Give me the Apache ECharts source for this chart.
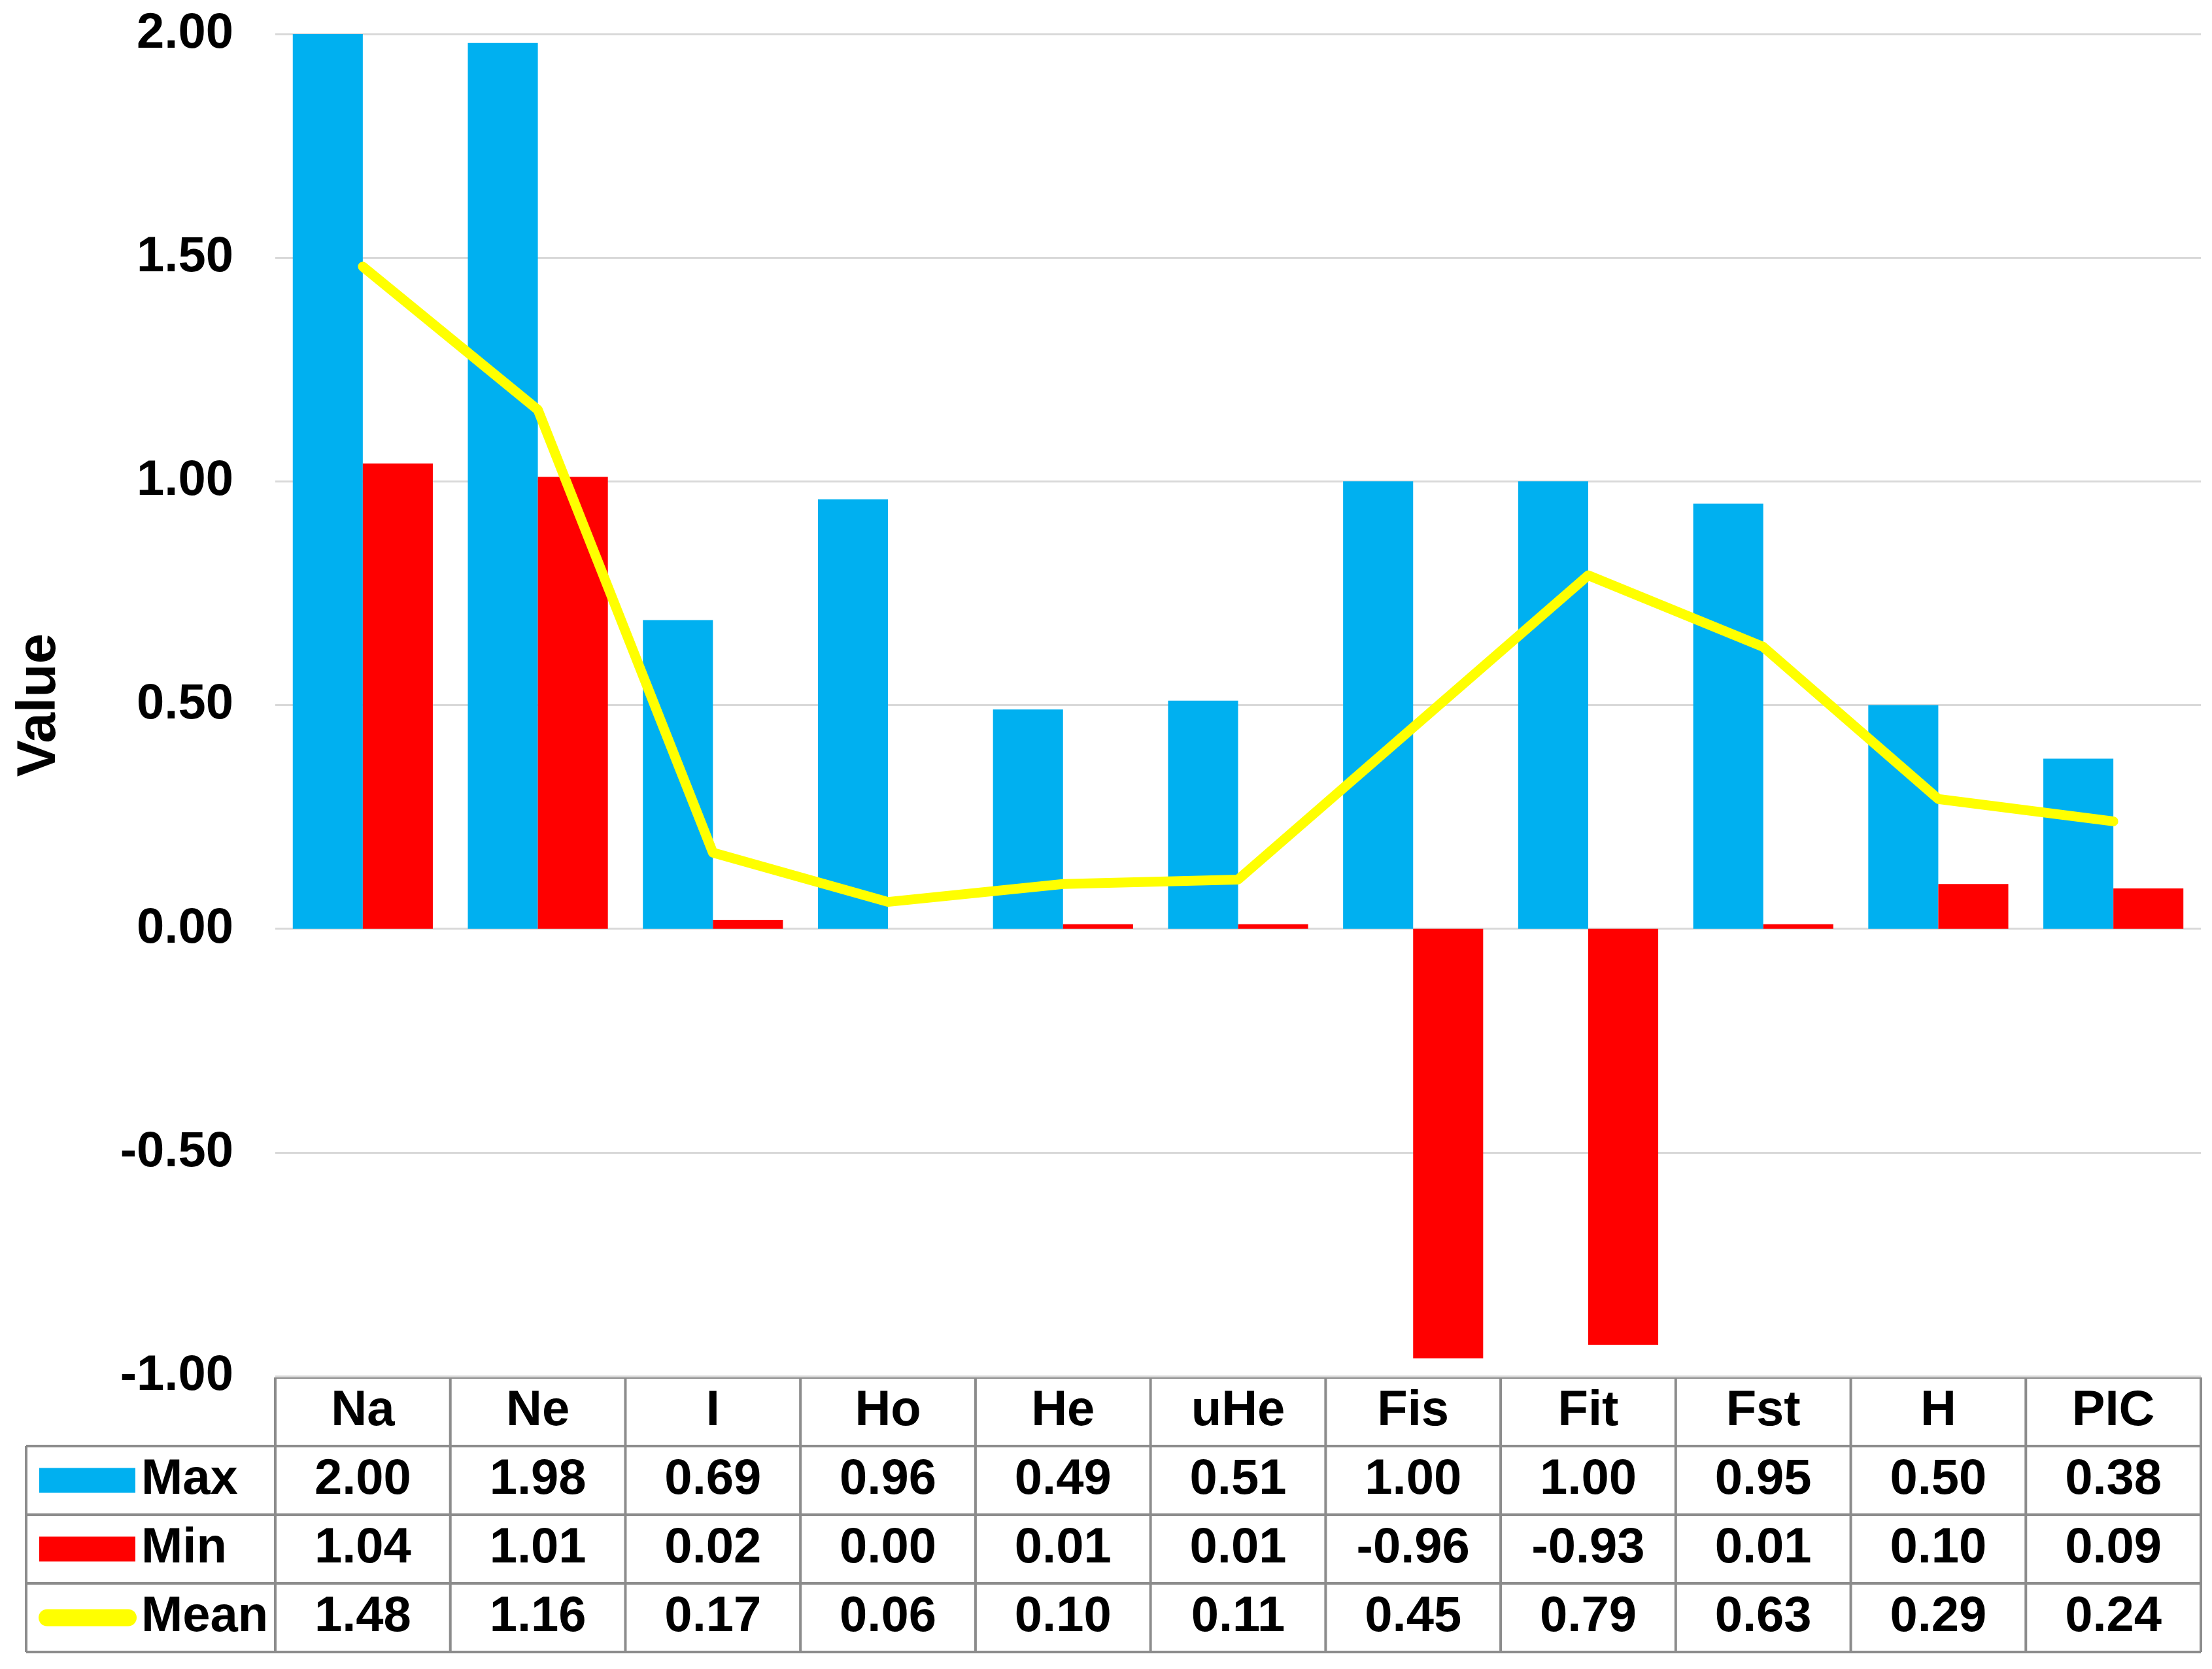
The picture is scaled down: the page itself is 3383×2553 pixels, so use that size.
<!DOCTYPE html>
<html><head><meta charset="utf-8">
<script src="https://cdn.jsdelivr.net/npm/echarts@6/dist/echarts.min.js"></script>
<style>html,body{margin:0;padding:0;background:#fff}#c{width:3383px;height:2553px}</style>
</head><body><div id="c"></div>
<script>
const categories = ['Na','Ne','I','Ho','He','uHe','Fis','Fit','Fst','H','PIC'];
const maxValues  = [2.00,1.98,0.69,0.96,0.49,0.51,1.00,1.00,0.95,0.50,0.38];
const minValues  = [1.04,1.01,0.02,0.00,0.01,0.01,-0.96,-0.93,0.01,0.10,0.09];
const meanValues = [1.48,1.16,0.17,0.06,0.10,0.11,0.45,0.79,0.63,0.29,0.24];
const seriesNames = ['Max','Min','Mean'];
const seriesColors = ['#00B0F0','#FF0000','#FFFF00'];
const yMin = -1, yMax = 2, yInterval = 0.5;
const yAxisTitle = 'Value';

const W = 3383, H = 2553;
const gridLeft = 421, gridRight = 17, gridTop = 52, gridBottom = 448;
const FONT = 'Liberation Sans, Arial, sans-serif';
const TFONT = 'bold 76px ' + FONT;

const chart = echarts.init(document.getElementById('c'), null, {renderer:'canvas', devicePixelRatio:1});

// Data table geometry (below the plot)
const plotW = W - gridLeft - gridRight;
const colW = plotW / categories.length;
const tableTop = H - gridBottom + 2;
const rowH = 105;
const legLeft = 40;
const lineColor = '#8c8c8c';
const lineW = 4;
const tableRows = [maxValues, minValues, meanValues];

const g = [];
g.push({type:'line', shape:{x1:gridLeft, y1:tableTop, x2:W-gridRight, y2:tableTop}, style:{stroke:lineColor, lineWidth:lineW}});
for (let r = 1; r <= 4; r++) {
  const y = tableTop + r*rowH;
  g.push({type:'line', shape:{x1:legLeft, y1:y, x2:W-gridRight, y2:y}, style:{stroke:lineColor, lineWidth:lineW}});
}
g.push({type:'line', shape:{x1:legLeft, y1:tableTop+rowH, x2:legLeft, y2:tableTop+4*rowH}, style:{stroke:lineColor, lineWidth:lineW}});
for (let c = 0; c <= categories.length; c++) {
  const x = gridLeft + c*colW;
  g.push({type:'line', shape:{x1:x, y1:tableTop, x2:x, y2:tableTop+4*rowH}, style:{stroke:lineColor, lineWidth:lineW}});
}
categories.forEach((cat, i) => {
  g.push({type:'text', x:gridLeft+(i+0.5)*colW, y:tableTop+rowH/2,
    style:{text:cat, font:TFONT, fill:'#000', align:'center', verticalAlign:'middle'}});
});
tableRows.forEach((vals, r) => {
  const cy = tableTop + (r+1.5)*rowH;
  if (r < 2) {
    g.push({type:'rect', shape:{x:60, y:cy-19, width:147, height:38}, style:{fill:seriesColors[r]}});
  } else {
    g.push({type:'line', shape:{x1:72, y1:cy, x2:196, y2:cy}, style:{stroke:seriesColors[r], lineWidth:26, lineCap:'round'}});
  }
  g.push({type:'text', x:216, y:cy, style:{text:seriesNames[r], font:TFONT, fill:'#000', align:'left', verticalAlign:'middle'}});
  vals.forEach((v, i) => {
    g.push({type:'text', x:gridLeft+(i+0.5)*colW, y:cy,
      style:{text:v.toFixed(2), font:TFONT, fill:'#000', align:'center', verticalAlign:'middle'}});
  });
});

const option = {
  backgroundColor:'#fff',
  animation:false,
  grid:{left:gridLeft, right:gridRight, top:gridTop, bottom:gridBottom, containLabel:false},
  xAxis:{type:'category', data:categories, axisLine:{show:false}, axisTick:{show:false}, axisLabel:{show:false}},
  yAxis:{type:'value', min:yMin, max:yMax, interval:yInterval,
    name:yAxisTitle, nameLocation:'middle', nameRotate:90, nameGap:318,
    nameTextStyle:{fontFamily:FONT, fontWeight:'bold', fontSize:84, color:'#000'},
    axisLine:{show:false}, axisTick:{show:false},
    axisLabel:{formatter:v=>v.toFixed(2), fontFamily:FONT, fontWeight:'bold', fontSize:76, color:'#000', margin:64},
    splitLine:{lineStyle:{color:'#d9d9d9', width:3}}},
  series:[
    {name:seriesNames[0], type:'bar', data:maxValues, itemStyle:{color:seriesColors[0]}, barGap:'0%', barCategoryGap:'20%'},
    {name:seriesNames[1], type:'bar', data:minValues, itemStyle:{color:seriesColors[1]}, barGap:'0%', barCategoryGap:'20%'},
    {name:seriesNames[2], type:'line', data:meanValues, showSymbol:false, symbol:'none', z:5,
      lineStyle:{color:seriesColors[2], width:15, join:'round', cap:'round'}}
  ],
  graphic:g
};
chart.setOption(option);
</script>
</body></html>
